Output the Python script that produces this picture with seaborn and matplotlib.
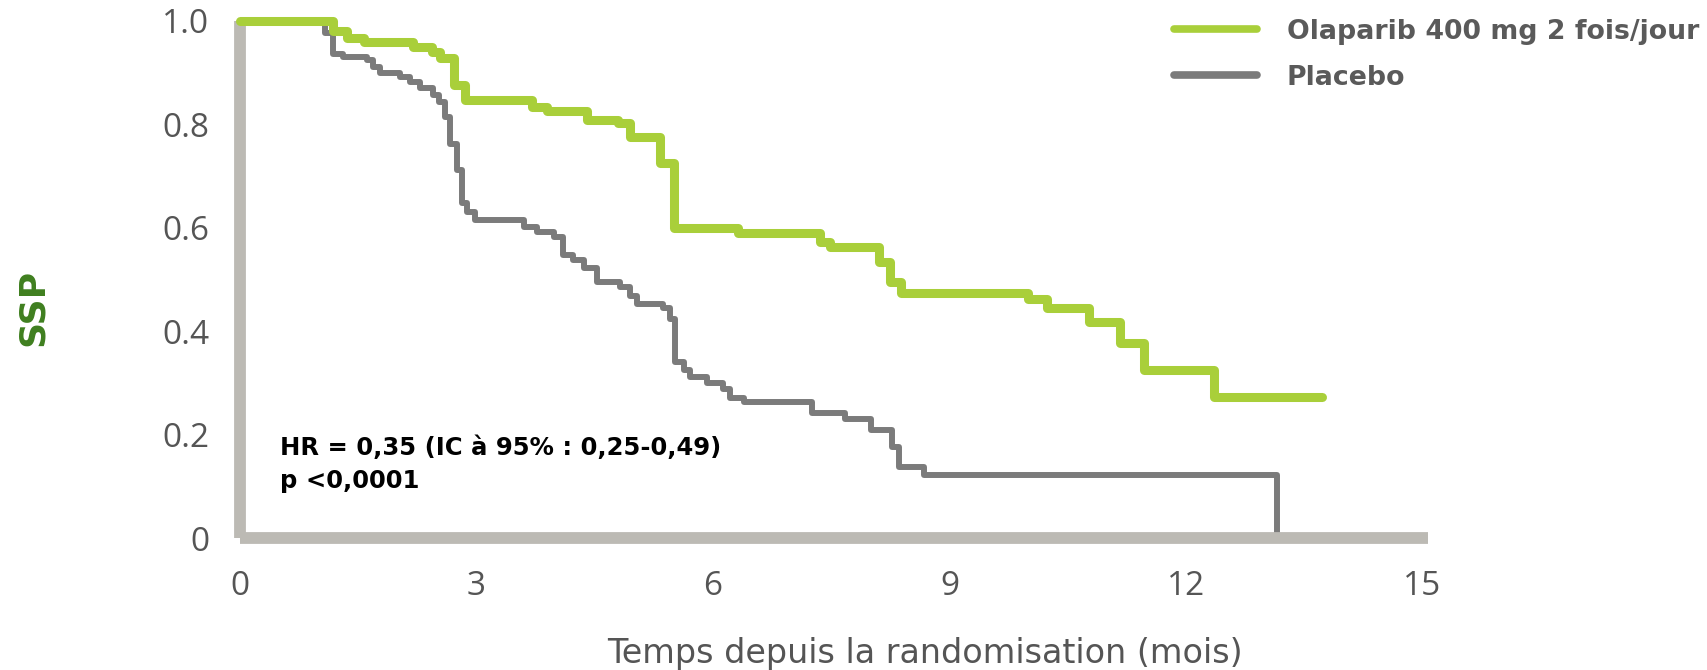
import matplotlib
matplotlib.use("Agg")
import matplotlib.pyplot as plt
import pandas as pd
import seaborn as sns

# Kaplan-Meier steps (months, SSP)
olaparib_months = [0, 1.18, 1.36, 1.57, 2.20, 2.43, 2.54, 2.71, 2.86, 3.70, 3.89,
                   4.40, 4.80, 4.95, 5.33, 5.50, 6.32, 7.36, 7.49, 8.10, 8.25,
                   8.38, 10.00, 10.24, 10.77, 11.16, 11.47, 12.35, 13.72]
olaparib_ssp = [1.0, 0.981, 0.968, 0.959, 0.950, 0.940, 0.929, 0.876, 0.847, 0.834,
                0.825, 0.809, 0.802, 0.775, 0.725, 0.600, 0.590, 0.573, 0.563,
                0.534, 0.495, 0.474, 0.463, 0.444, 0.418, 0.377, 0.324, 0.273, 0.273]

placebo_months = [0, 1.08, 1.18, 1.31, 1.61, 1.69, 1.78, 2.03, 2.16, 2.28, 2.45,
                  2.52, 2.60, 2.66, 2.75, 2.81, 2.88, 2.98, 3.60, 3.77, 3.98, 4.10,
                  4.23, 4.36, 4.53, 4.82, 4.95, 5.04, 5.37, 5.46, 5.52, 5.63, 5.71,
                  5.92, 6.13, 6.22, 6.39, 7.25, 7.68, 8.00, 8.27, 8.36, 8.68, 13.15]
placebo_ssp = [1.0, 0.976, 0.937, 0.930, 0.924, 0.911, 0.899, 0.892, 0.882, 0.871,
               0.856, 0.843, 0.814, 0.763, 0.711, 0.647, 0.631, 0.615, 0.602, 0.592,
               0.582, 0.547, 0.537, 0.522, 0.495, 0.486, 0.469, 0.453, 0.444, 0.424,
               0.340, 0.324, 0.311, 0.299, 0.289, 0.270, 0.263, 0.241, 0.231, 0.208,
               0.176, 0.137, 0.121, 0.0]

series_labels = ["Olaparib 400 mg 2 fois/jour", "Placebo"]
x_ticks = [0, 3, 6, 9, 12, 15]
y_ticks = [0, 0.2, 0.4, 0.6, 0.8, 1.0]
y_tick_labels = ["0", "0.2", "0.4", "0.6", "0.8", "1.0"]
stats_text = "HR = 0,35 (IC à 95% : 0,25-0,49)\np <0,0001"

sns.set_style("white")
plt.rcParams["font.family"] = ["Open Sans", "DejaVu Sans"]
BOLD_FONT = ["DejaVu Sans"]

GREEN = "#a9cf3a"
GREY = "#7b7b7b"
AXIS_GREY = "#bcbab4"
TEXT_GREY = "#555555"

fig = plt.figure(figsize=(17.08, 6.7), dpi=100)
ax = fig.add_axes([0.1405, 0.197, 0.6956, 0.7717])

ola = pd.DataFrame({"mois": olaparib_months, "ssp": olaparib_ssp})
pla = pd.DataFrame({"mois": placebo_months, "ssp": placebo_ssp})

sns.lineplot(data=ola, x="mois", y="ssp", ax=ax, drawstyle="steps-post",
             estimator=None, color=GREEN, linewidth=6.5, label=series_labels[0],
             clip_on=False, zorder=3)
sns.lineplot(data=pla, x="mois", y="ssp", ax=ax, drawstyle="steps-post",
             estimator=None, color=GREY, linewidth=4.3, label=series_labels[1],
             clip_on=False, zorder=2)

ax.set_xlim(0, 15.07)
ax.set_ylim(0, 1.0)
ax.set_xticks(x_ticks)
ax.set_yticks(y_ticks)
ax.set_yticklabels(y_tick_labels)

for side in ["top", "right"]:
    ax.spines[side].set_visible(False)
for side in ["left", "bottom"]:
    ax.spines[side].set_color(AXIS_GREY)
    ax.spines[side].set_linewidth(8.5)
    ax.spines[side].set_capstyle("butt")

ax.tick_params(axis="x", direction="out", length=15, width=7, color=AXIS_GREY,
               pad=8, labelsize=24, labelcolor=TEXT_GREY)
ax.tick_params(axis="y", direction="out", length=14, width=5, color=AXIS_GREY,
               pad=8, labelsize=24, labelcolor=TEXT_GREY)

ax.set_xlabel("Temps depuis la randomisation (mois)", fontsize=24,
              color=TEXT_GREY, family=["DejaVu Sans"])
ax.xaxis.set_label_coords((925 - 240) / 1188, -0.1915)
ax.set_ylabel("")
fig.text(33 / 1708, 1 - 307 / 670, "SSP", rotation=90, fontsize=26,
         fontweight="bold", color="#3f7f1f", ha="center", va="center",
         family=BOLD_FONT)

ax.text(0.034, 0.198, stats_text, transform=ax.transAxes, fontsize=17.5,
        fontweight="bold", color="black", ha="left", va="top", linespacing=1.45,
        family=BOLD_FONT)

leg = ax.legend(loc="upper left", bbox_to_anchor=(1174 / 1708, 0.972),
                bbox_transform=fig.transFigure, frameon=False, borderpad=0,
                borderaxespad=0, handlelength=3.08, handletextpad=1.12,
                labelspacing=0.75,
                prop={"family": BOLD_FONT, "weight": "bold", "size": 19.3})
for line in leg.get_lines():
    line.set_linewidth(5.5)
for txt in leg.get_texts():
    txt.set_color("#5a5a5a")

fig.savefig("out.png", dpi=100)
